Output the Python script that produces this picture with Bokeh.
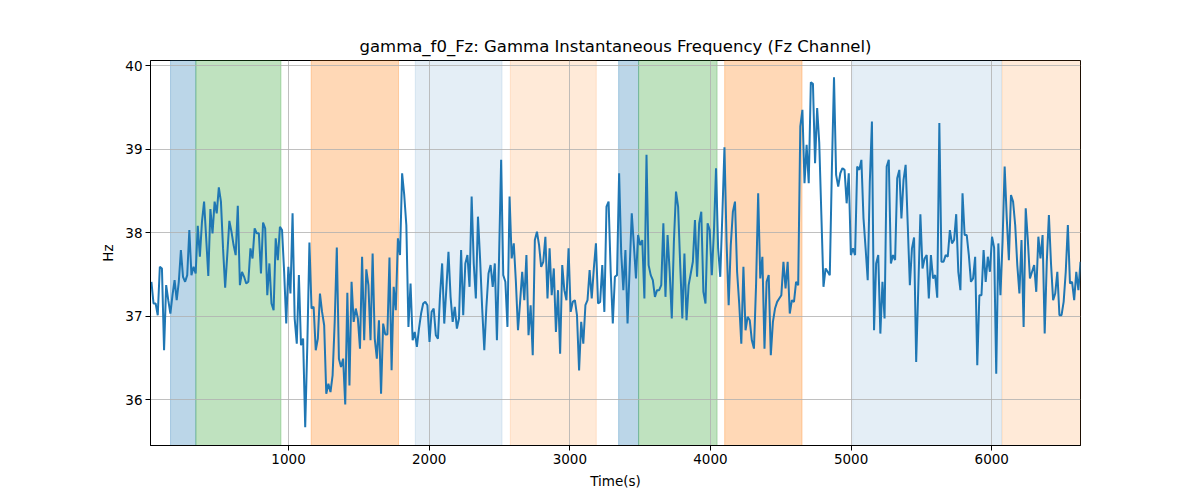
from bokeh.plotting import figure
from bokeh.models import BoxAnnotation, Range1d, FixedTicker
from bokeh.embed import file_html
from bokeh.resources import INLINE
import numpy as np

# --- data ---
t_start = 25.0
t_end = 6631.0

hz_values = [
    # ~25 .. ~905
    37.41, 37.15, 37.15, 37.01, 37.59, 37.57, 36.59, 37.37, 37.19, 37.03,
    37.25, 37.43, 37.19, 37.41, 37.79, 37.47, 37.41, 37.49, 38.03, 37.49,
    37.59, 37.51, 38.08, 37.71, 38.13, 38.37, 37.93, 37.48, 38.28, 37.99,
    38.37, 38.23, 38.54, 38.37, 37.81, 37.34, 37.73, 38.14, 38.01, 37.85,
    37.73, 38.32, 37.37, 37.53, 37.47, 37.39, 37.41, 37.81, 37.69, 38.05,
    37.99, 37.99, 37.51, 38.12, 38.05, 37.25, 37.63, 37.15, 37.07,
    # ~ 900 .. 1750
    37.93, 37.67, 38.07, 38.03, 37.53, 36.91, 37.59, 37.27, 38.23, 36.97,
    36.67, 37.49, 36.65, 36.73, 35.67, 36.65, 37.88, 37.09, 37.11, 36.59,
    36.73, 37.27, 37.05, 36.89, 36.07, 36.19, 36.09, 36.29, 36.93, 37.82,
    36.49, 36.39, 36.49, 35.94, 37.28, 36.17, 37.41, 36.93, 37.09, 36.97,
    36.61, 37.71, 36.71, 37.56, 37.37, 36.71, 37.75, 36.73, 36.49, 36.95,
    36.07, 36.91, 36.78, 36.78, 37.70, 36.35, 37.35,
    # ~1750 .. 2600
    37.07, 37.93, 37.73, 38.71, 38.45, 38.09, 36.87, 37.39, 36.71, 36.81,
    36.63, 36.85, 37.03, 37.15, 37.17, 37.13, 36.69, 37.05, 37.09, 36.77,
    36.73, 37.25, 37.63, 36.91, 37.33, 37.77, 37.23, 36.93, 37.11, 36.85,
    36.97, 37.79, 37.01, 37.63, 37.73, 37.35, 38.43, 37.63, 37.21, 38.19,
    37.69, 37.09, 36.59, 37.11, 37.51, 37.61, 37.35, 37.63, 36.71, 37.69,
    38.87, 37.49, 37.41, 36.87, 38.43, 37.69, 37.87,
    # ~2600 .. 3450
    37.41, 36.83, 37.17, 37.53, 37.19, 37.73, 36.77, 37.13, 36.53, 37.91,
    38.01, 37.85, 37.59, 37.65, 37.95, 37.21, 37.81, 37.25, 37.57, 36.81,
    37.31, 36.55, 37.61, 37.31, 37.19, 37.81, 37.05, 37.17, 37.19, 37.01,
    36.35, 36.93, 36.67, 37.13, 37.19, 37.55, 37.21, 37.57, 37.87, 37.15,
    37.17, 37.61, 37.05, 38.31, 38.37, 37.53, 36.91, 37.47, 37.49, 38.71,
    37.75, 37.31, 37.79, 36.91, 37.57, 38.23, 37.85,
    # ~3450 .. 4300
    37.45, 37.97, 37.85, 37.91, 37.21, 38.93, 37.61, 37.49, 37.43, 37.23,
    37.31, 37.31, 37.37, 38.11, 37.23, 37.97, 37.53, 36.97, 37.89, 38.49,
    38.31, 37.61, 36.97, 37.75, 36.95, 37.37, 37.51, 37.65, 38.15, 37.47,
    38.11, 38.25, 37.29, 37.15, 38.11, 38.03, 37.49, 38.01, 38.77, 37.81,
    37.47, 38.21, 39.02, 37.89, 37.13, 37.85, 38.25, 38.37, 37.53, 37.15,
    36.67, 37.59, 36.83, 36.99, 36.95, 36.71, 36.61,
    # ~4300 .. 5150
    37.37, 38.47, 37.45, 37.71, 36.61, 37.41, 37.49, 36.53, 36.93, 37.09,
    37.17, 37.21, 37.25, 37.65, 37.33, 37.65, 37.03, 37.19, 37.17, 37.41,
    37.37, 39.27, 39.47, 38.59, 39.05, 38.59, 39.80, 39.78, 38.83, 39.49,
    39.07, 38.21, 37.35, 37.57, 37.53, 37.49, 38.77, 39.86, 38.69, 38.55,
    38.71, 38.77, 38.75, 38.35, 38.71, 37.73, 37.81, 37.73, 38.79, 38.75,
    38.87, 38.17, 37.81, 37.43, 38.61, 39.33, 36.83,
    # ~5150 .. 6000
    37.63, 37.73, 36.79, 37.41, 36.97, 38.79, 38.87, 37.63, 37.73, 37.67,
    38.65, 38.75, 38.17, 38.63, 38.81, 38.09, 37.37, 37.81, 37.94, 36.45,
    37.33, 38.22, 37.57, 37.69, 37.73, 37.21, 37.73, 37.45, 37.49, 37.22,
    39.31, 37.65, 37.65, 37.73, 37.71, 38.03, 37.87, 37.91, 38.22, 37.53,
    37.31, 38.47, 37.97, 37.97, 37.73, 37.41, 37.45, 37.71, 36.41, 37.25,
    37.25, 37.79, 37.41, 37.71, 37.53, 37.95, 37.82,
    # ~6000 .. 6631
    36.31, 37.87, 37.25, 37.89, 38.79, 38.17, 37.67, 38.45, 38.37, 38.09,
    37.61, 37.27, 37.91, 36.87, 38.29, 37.91, 37.45, 37.53, 37.61, 37.29,
    37.95, 37.69, 37.97, 36.79, 37.65, 38.21, 37.63, 37.19, 37.27, 37.53,
    37.01, 37.01, 37.17, 37.53, 38.09, 37.39, 37.41, 37.19, 37.53, 37.31,
    37.65,
]

# shaded intervals
span_starts = [161, 341, 1161, 1901, 2577, 3347, 3489, 4101, 5011, 6074]
span_ends = [341, 946, 1782, 2518, 3188, 3489, 4047, 4651, 6069, 6631]
span_colors = ["#1f77b4", "#2ca02c", "#ff7f0e", "#1f77b4", "#ff7f0e",
               "#1f77b4", "#2ca02c", "#ff7f0e", "#1f77b4", "#ff7f0e"]
span_alphas = [0.3, 0.3, 0.3, 0.12, 0.16, 0.3, 0.3, 0.3, 0.12, 0.16]

x_ticks = [1000, 2000, 3000, 4000, 5000, 6000]
y_ticks = [36, 37, 38, 39, 40]

title_text = "gamma_f0_Fz: Gamma Instantaneous Frequency (Fz Channel)"

times = np.linspace(t_start, t_end, len(hz_values))

p = figure(width=1192, height=492, output_backend="svg", toolbar_location=None,
           x_range=Range1d(18.5, 6631), y_range=Range1d(35.45, 40.06),
           title=title_text,
           min_border_left=150, min_border_right=112,
           min_border_top=60, min_border_bottom=47)

for s, e, c, a in zip(span_starts, span_ends, span_colors, span_alphas):
    p.add_layout(BoxAnnotation(left=s, right=e, fill_color=c, fill_alpha=a,
                               line_color=c, line_alpha=a, line_width=1,
                               level="image"))

p.line(times, hz_values, line_color="#1f77b4", line_width=2)

p.title.text_font = "DejaVu Sans"
p.title.text_font_size = "16.5px"
p.title.text_font_style = "normal"
p.title.align = "center"
p.title.text_color = "black"

p.xaxis.ticker = FixedTicker(ticks=x_ticks)
p.yaxis.ticker = FixedTicker(ticks=y_ticks)
p.xaxis.axis_label = "Time(s)"
p.yaxis.axis_label = "Hz"
for ax in (p.xaxis, p.yaxis):
    ax.axis_label_text_font = "DejaVu Sans"
    ax.axis_label_text_font_size = "13.5px"
    ax.axis_label_text_font_style = "normal"
    ax.axis_label_text_color = "black"
    ax.major_label_text_font = "DejaVu Sans"
    ax.major_label_text_font_size = "13.5px"
    ax.major_label_text_color = "black"
    ax.axis_line_color = "black"
    ax.major_tick_line_color = "black"
    ax.major_tick_out = 5
    ax.major_tick_in = 0
    ax.minor_tick_line_color = None
    ax.major_label_standoff = 3
p.xaxis.axis_label_standoff = 6
p.yaxis.axis_label_standoff = 6

p.xgrid.ticker = FixedTicker(ticks=x_ticks)
p.ygrid.ticker = FixedTicker(ticks=y_ticks)
p.grid.grid_line_color = "#b0b0b0"
p.grid.grid_line_width = 0.8
p.grid.grid_line_alpha = 1.0

p.outline_line_color = "black"
p.outline_line_width = 1
p.outline_line_alpha = 1.0
p.background_fill_color = "white"
p.border_fill_color = "white"

open("out.html", "w").write(file_html(p, INLINE))
